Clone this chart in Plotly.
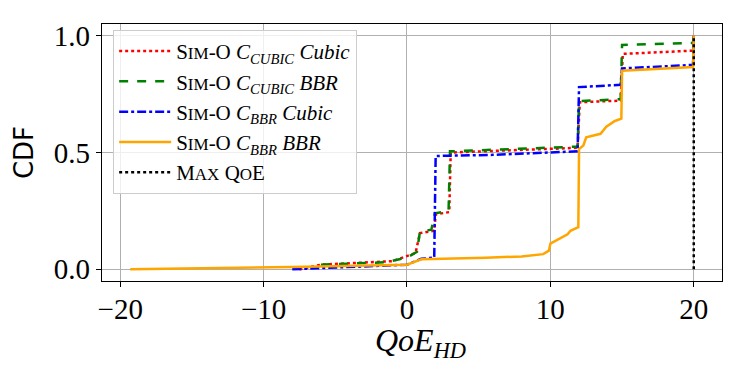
import plotly.graph_objects as go

red_x = [-7.5, -6.0, -1.0, 0.6, 0.9, 1.9, 2.0, 2.95, 3.05, 8.0, 11.9, 12.05, 14.9, 15.05, 19.95, 20.0]
red_y = [0.0, 0.02, 0.035, 0.07, 0.155, 0.165, 0.235, 0.245, 0.50, 0.51, 0.52, 0.715, 0.722, 0.922, 0.936, 1.0]

green_x = [-6.0, -1.5, 0.0, 0.7, 0.9, 1.7, 1.95, 2.9, 3.0, 8.0, 11.9, 12.0, 14.9, 15.0, 19.95, 20.0]
green_y = [0.02, 0.03, 0.05, 0.075, 0.16, 0.17, 0.24, 0.25, 0.505, 0.515, 0.525, 0.72, 0.728, 0.96, 0.969, 1.0]

blue_x = [-8.0, -4.0, 0.0, 1.0, 1.9, 2.0, 6.0, 11.9, 12.0, 14.9, 15.0, 19.95, 20.0]
blue_y = [0.0, 0.01, 0.02, 0.045, 0.05, 0.485, 0.49, 0.505, 0.78, 0.79, 0.86, 0.875, 1.0]

orange_x = [-19.3, -10.0, -8.0, 0.0, 1.0, 5.5, 8.0, 9.5, 9.9, 10.0, 11.2, 11.4, 11.95, 12.0,
            12.3, 12.5, 13.5, 13.9, 14.5, 14.95, 15.0, 19.95, 20.0]
orange_y = [0.0, 0.008, 0.01, 0.02, 0.043, 0.05, 0.055, 0.065, 0.08, 0.11, 0.15, 0.165, 0.18, 0.515,
            0.53, 0.565, 0.58, 0.61, 0.635, 0.645, 0.85, 0.866, 1.0]

maxqoe_x = [20.0, 20.0]
maxqoe_y = [0.0, 1.0]

sc = '<span style="font-size:17px">'
names = [
    f'S{sc}IM</span>-O <i>C</i><sub><i>CUBIC</i></sub> <i>Cubic</i>',
    f'S{sc}IM</span>-O <i>C</i><sub><i>CUBIC</i></sub> <i>BBR</i>',
    f'S{sc}IM</span>-O <i>C</i><sub><i>BBR</i></sub> <i>Cubic</i>',
    f'S{sc}IM</span>-O <i>C</i><sub><i>BBR</i></sub> <i>BBR</i>',
    f'M{sc}AX</span> Q{sc}O</span>E',
]

series = [
    (red_x, red_y, "red", "dot"),
    (green_x, green_y, "green", "dash"),
    (blue_x, blue_y, "blue", "dashdot"),
    (orange_x, orange_y, "orange", "solid"),
    (maxqoe_x, maxqoe_y, "black", "dot"),
]

fig = go.Figure()
for (xs, ys, col, dash), name in zip(series, names):
    fig.add_trace(go.Scatter(
        x=xs, y=ys, mode="lines", name=name,
        line=dict(color=col, dash=dash, width=2.5),
    ))

serif = "Liberation Serif"
fig.update_layout(
    width=747, height=374,
    margin=dict(l=102, r=25, t=24, b=93, autoexpand=False),
    plot_bgcolor="white", paper_bgcolor="white",
    font=dict(family=serif, size=29, color="black"),
    legend=dict(
        x=0.018, y=0.977, xanchor="left", yanchor="top",
        bgcolor="rgba(255,255,255,0.8)", bordercolor="#cccccc", borderwidth=1,
        font=dict(family=serif, size=21), itemwidth=52,
    ),
    xaxis=dict(
        range=[-21.27, 21.97], tickvals=[-20, -10, 0, 10, 20], automargin=False,
        showline=True, mirror=True, linecolor="black", linewidth=1.2,
        ticks="outside", ticklen=5, tickcolor="black", ticklabelstandoff=-3,
        showgrid=True, gridcolor="#b0b0b0", gridwidth=1, zeroline=False,
    ),
    yaxis=dict(
        range=[-0.05, 1.05], tickvals=[0, 0.5, 1.0], tickformat=".1f", automargin=False,
        showline=True, mirror=True, linecolor="black", linewidth=1.2,
        ticks="outside", ticklen=5, tickcolor="black",
        showgrid=True, gridcolor="#b0b0b0", gridwidth=1, zeroline=False,
        title=dict(text="CDF", font=dict(family="DejaVu Sans", size=26), standoff=12),
    ),
    annotations=[dict(
        text="<i>QoE</i><sub><i>HD</i></sub>", xref="paper", yref="paper",
        x=0.513, y=-0.24, xanchor="center", yanchor="middle", showarrow=False,
        font=dict(family=serif, size=32),
    )],
)

fig.write_html("out.html", config={"displayModeBar": False},
               post_script="document.body.style.margin='0';")
